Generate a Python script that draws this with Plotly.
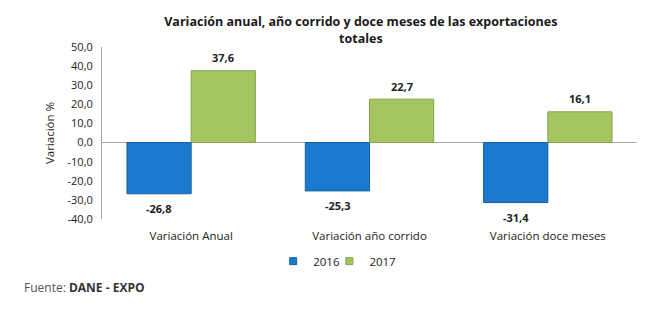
import plotly.graph_objects as go

categories = ["Variación Anual", "Variación año corrido", "Variación doce meses"]
values_2016 = [-26.8, -25.3, -31.4]
values_2017 = [37.6, 22.7, 16.1]
tick_vals = [50, 40, 30, 20, 10, 0, -10, -20, -30, -40]
tick_text = ["50,0", "40,0", "30,0", "20,0", "10,0", "0,0", "-10,0", "-20,0", "-30,0", "-40,0"]

FONT = "Open Sans"
BLUE, BLUE_EDGE = "#1b7ad0", "#14609f"
GREEN, GREEN_EDGE = "#a4c562", "#86a44a"


def fmt(v):
    return f"{v:.1f}".replace(".", ",")


fig = go.Figure()
fig.add_trace(go.Bar(
    name="2016", x=categories, y=values_2016, showlegend=False,
    marker=dict(color=BLUE, line=dict(color=BLUE_EDGE, width=1)),
))
fig.add_trace(go.Bar(
    name="2017", x=categories, y=values_2017, showlegend=False,
    marker=dict(color=GREEN, line=dict(color=GREEN_EDGE, width=1)),
))
# small square legend keys, one legend box per year
for name, col, edge, leg in [("2016", BLUE, BLUE_EDGE, "legend"),
                             ("2017", GREEN, GREEN_EDGE, "legend2")]:
    fig.add_trace(go.Scatter(
        x=[None], y=[None], mode="markers", name=name, legend=leg,
        marker=dict(symbol="square", size=7, color=col, line=dict(color=edge, width=1)),
    ))

# value labels above / below each bar
annotations = []
for series, shift in [(values_2016, -32), (values_2017, 32)]:
    for cat, v in zip(categories, series):
        annotations.append(dict(
            x=cat, y=v, xref="x", yref="y", xshift=shift,
            yshift=13 if v >= 0 else -15, yanchor="middle",
            text=f"<b>{fmt(v)}</b>", showarrow=False,
            font=dict(size=11, color="#222222", family=FONT),
        ))
annotations.append(dict(
    text="<span style='color:#555555'>Fuente:</span> <b>DANE - EXPO</b>",
    xref="paper", yref="paper", x=-0.149, y=-0.4, xanchor="left", yanchor="middle",
    showarrow=False, font=dict(size=12, color="#333333", family=FONT),
))

legend_style = dict(
    orientation="h", y=-0.245, yanchor="middle", xanchor="left",
    font=dict(size=11.5, family=FONT), itemwidth=30, bgcolor="rgba(0,0,0,0)",
)

fig.update_layout(
    width=649, height=330,
    margin=dict(l=102, r=12, t=47, b=111),
    paper_bgcolor="white", plot_bgcolor="white",
    barmode="group", bargap=0.28, bargroupgap=0,
    font=dict(family=FONT, size=11, color="#222222"),
    title=dict(
        text="<b>Variación anual, año corrido y doce meses de las exportaciones<br>totales</b>",
        x=0.556, xanchor="center", y=0.92, yanchor="middle",
        font=dict(size=12.5, color="#1a1a1a", family=FONT),
    ),
    showlegend=True,
    legend=dict(x=0.320, **legend_style),
    legend2=dict(x=0.425, **legend_style),
    yaxis=dict(
        range=[-40, 50], tickvals=tick_vals, ticktext=tick_text,
        showgrid=False, zeroline=True, zerolinecolor="#a6a6a6", zerolinewidth=1,
        showline=True, linecolor="#a6a6a6", linewidth=1,
        ticks="", ticklabelstandoff=6,
        title=dict(text="Variación %", font=dict(size=11.5, family=FONT), standoff=10),
    ),
    xaxis=dict(showline=False, ticks="", tickfont=dict(size=11.5, family=FONT),
               ticklabelstandoff=8),
    annotations=annotations,
)

fig.write_html("out.html")
